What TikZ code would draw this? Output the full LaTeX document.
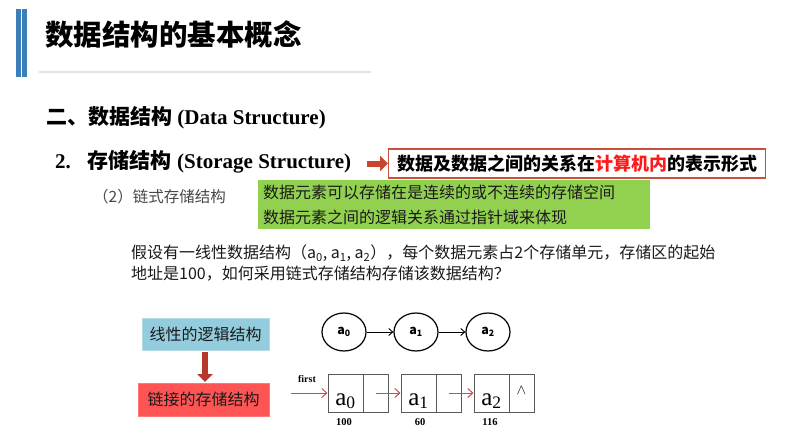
\documentclass[tikz,border=0pt]{standalone}
\usepackage{fontspec}
\setmainfont{Liberation Serif}
\newfontfamily\cjk{Noto Sans CJK SC}
\usetikzlibrary{arrows.meta,shapes.geometric}

\definecolor{barblue}{HTML}{3A7FBA}
\definecolor{rulegray}{HTML}{E3E3E3}
\definecolor{arrowred}{HTML}{C8462E}
\definecolor{frame}{HTML}{C9503C}
\definecolor{hotred}{HTML}{FF1A1A}
\definecolor{leaf}{HTML}{92D050}
\definecolor{sky}{HTML}{93CDDD}
\definecolor{coral}{HTML}{FF5454}
\definecolor{brick}{HTML}{B5382A}
\definecolor{ink}{HTML}{1A1A1A}
\definecolor{cellgray}{HTML}{5A5A5A}
\definecolor{linkred}{HTML}{C0504D}

\tikzset{
  fatarrow/.style={line width=6pt, -{Triangle[length=8pt,width=15pt]}},
  node_oval/.style={ellipse, draw=black, line width=1.2pt, minimum width=44pt, minimum height=38pt, inner sep=0pt,
    font=\cjk\bfseries\fontsize{12.5}{12.5}\selectfont},
  datacell/.style={draw=cellgray, line width=1pt, minimum width=35pt, minimum height=38pt, inner sep=0pt},
  ptrcell/.style={draw=cellgray, line width=1pt, minimum width=25pt, minimum height=38pt, inner sep=0pt},
  celltext/.style={anchor=base, inner sep=0pt, font=\fontsize{25}{25}\selectfont},
  addr/.style={inner sep=0pt, font=\bfseries\fontsize{10.5}{10.5}\selectfont},
  link/.style={draw=linkred, line width=1pt, -{Straight Barb[length=5pt,width=9pt]}},
  chain/.style={draw=black, line width=0.9pt, -{Straight Barb[length=4pt,width=7pt]}},
}

\begin{document}
\begin{tikzpicture}[x=1pt,y=-1pt]
\useasboundingbox (0,0) rectangle (790,439);
\fill[white] (0,0) rectangle (790,439);

% title bar
\fill[barblue] (16,9) rectangle (21,77);
\fill[barblue] (22,9) rectangle (27,77);
\draw[rulegray, line width=1.2pt] (39,72) -- (371,72);
\node[anchor=west, inner sep=0pt, font=\cjk\bfseries\fontsize{28.5}{30}\selectfont] (title) at (45,35) {数据结构的基本概念};

% section headings
\node[anchor=west, inner sep=0pt, font=\fontsize{21}{24}\selectfont] (h1) at (46,118)
  {{\cjk\bfseries 二、数据结构} \textbf{(Data Structure)}};
\node[anchor=west, inner sep=0pt, font=\fontsize{21}{24}\selectfont] (h2) at (55,162)
  {\textbf{2.}\hspace{17pt}{\cjk\bfseries 存储结构} \textbf{(Storage Structure)}};

% definition box
\node[anchor=west, draw=frame, line width=1.3pt, fill=white, minimum width=377pt, minimum height=29pt, inner sep=0pt,
      font=\cjk\bfseries\fontsize{18}{20}\selectfont] (defbox) at (388,163.5)
  {数据及数据之间的关系在\textcolor{hotred}{计算机内}的表示形式};
\draw[fatarrow, arrowred] (367,163.5) -- (defbox.west);

% linked storage subheading
\node[anchor=west, inner sep=0pt, text=ink!80, font=\cjk\fontsize{15.5}{18}\selectfont] (sub) at (93,197) {（2）链式存储结构};

% note box
\node[anchor=north west, fill=leaf, minimum width=392pt, minimum height=49pt, text width=382pt, inner xsep=5pt, inner ysep=0pt,
      align=left, text=ink, font=\cjk\fontsize{16}{25}\selectfont] (note) at (258,180)
  {数据元素可以存储在是连续的或不连续的存储空间\\数据元素之间的逻辑关系通过指针域来体现};

% question text
\node[anchor=north west, inner sep=0pt, align=left, text=ink, font=\cjk\fontsize{16}{21}\selectfont] (question) at (131,245)
  {假设有一线性数据结构（a\textsubscript{0}, a\textsubscript{1}, a\textsubscript{2}），每个数据元素占2个存储单元，存储区的起始\\
   地址是100，如何采用链式存储结构存储该数据结构？};

% logical to storage
\node[fill=sky, draw=sky!70!white, minimum width=127pt, minimum height=32pt, inner sep=0pt, text=ink,
      font=\cjk\fontsize{16}{18}\selectfont] (logic) at (205.5,334) {线性的逻辑结构};
\node[fill=coral, draw=coral!80!white, minimum width=131pt, minimum height=33pt, inner sep=0pt, text=ink,
      font=\cjk\fontsize{16}{18}\selectfont] (store) at (203.5,399.5) {链接的存储结构};
\draw[fatarrow, brick] ([yshift=-2pt]logic.south -| 205,0) -- (205,382);

% logical chain
\node[node_oval] (c0) at (344,332) {a\textsubscript{0}};
\node[node_oval] (c1) at (416,332) {a\textsubscript{1}};
\node[node_oval] (c2) at (488,332) {a\textsubscript{2}};
\draw[chain] (c0) -- (c1);
\draw[chain] (c1) -- (c2);

% linked list cells
\node[datacell] (d0) at (345.5,393) {};
\node[ptrcell]  (p0) at (375.5,393) {};
\node[datacell] (d1) at (418.5,393) {};
\node[ptrcell]  (p1) at (448.5,393) {};
\node[datacell] (d2) at (491.5,393) {};
\node[ptrcell]  (p2) at (521.5,393) {};
\node[celltext] (t0) at (345.5,405) {a\textsubscript{0}};
\node[celltext] (t1) at (418.5,405) {a\textsubscript{1}};
\node[celltext] (t2) at (491.5,405) {a\textsubscript{2}};
\node[inner sep=0pt, font=\fontsize{14}{14}\selectfont] (nil) at (521.5,390) {$\wedge$};

\node[inner sep=0pt, font=\bfseries\fontsize{10}{10}\selectfont] (first) at (307,379) {first};
\coordinate (head) at (291,393);
\draw[link] (head) -- (d0.west);
\draw[link] (p0.center) -- (d1.west);
\draw[link] (p1.center) -- (d2.west);

\node[addr] (a100) at (344,422) {100};
\node[addr] (a60)  at (420,422) {60};
\node[addr] (a116) at (490,422) {116};
\end{tikzpicture}
\end{document}
